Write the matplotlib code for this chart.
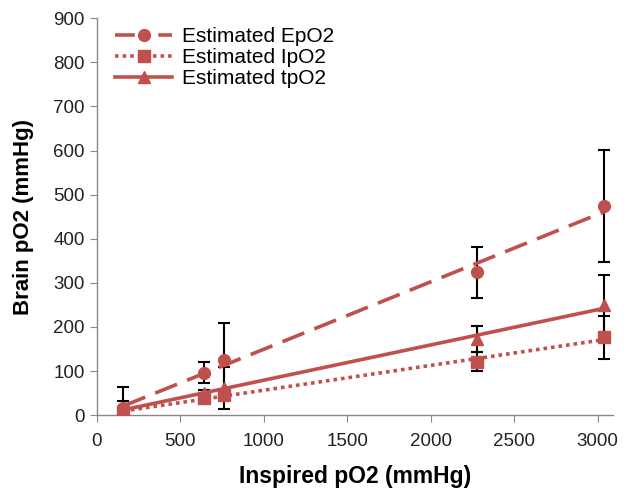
import numpy as np
import matplotlib
matplotlib.use('Agg')
import matplotlib.pyplot as plt
from matplotlib.lines import Line2D

plt.rcParams['font.family'] = ['Liberation Sans', 'DejaVu Sans']

# inspired pO2 (mmHg)
inspired = [160, 640, 760, 2280, 3040]

# estimated brain pO2 (mmHg) and error bars
epo2 = [15, 96, 125, 324, 474]
epo2_err = [48, 24, 85, 58, 127]
ipo2 = [8, 38, 45, 121, 176]
ipo2_err = [10, 8, 10, 21, 48]
tpo2 = [13, 50, 62, 172, 249]
tpo2_err = [20, 8, 48, 30, 68]

labels = ['Estimated EpO2', 'Estimated IpO2', 'Estimated tpO2']
markers = ['o', 's', '^']
styles = [(0, (6.5, 3)), (0, (1, 1.1)), '-']
# the legend needs its own dash so the short handle still looks dashed
legend_styles = [(0, (5.5, 6.5)), (0, (1, 1.1)), '-']
RED = '#C0504D'

fig = plt.figure(figsize=(6.24, 4.93), dpi=100)
ax = fig.add_axes([0.155, 0.158, 0.827, 0.805])

x = np.array(inspired, dtype=float)
handles = []
for vals, errs, m, ls, lls in zip([epo2, ipo2, tpo2], [epo2_err, ipo2_err, tpo2_err],
                                  markers, styles, legend_styles):
    y = np.array(vals, dtype=float)
    ax.errorbar(x, y, yerr=errs, fmt='none', ecolor='black', elinewidth=1.5,
                capsize=4, capthick=1.5, zorder=2)
    ax.plot(x, y, linestyle='none', marker=m, markersize=8.5, color=RED, zorder=3)
    # linear trendline
    k, b = np.polyfit(x, y, 1)
    xs = np.array([x.min(), x.max()])
    ax.plot(xs, k * xs + b, linestyle=ls, color=RED, linewidth=2.6, zorder=4)
    handles.append(Line2D([], [], color=RED, linestyle=lls, linewidth=2.6,
                          marker=m, markersize=8.5))

ax.set_xlim(0, 3090)
ax.set_ylim(0, 900)
ax.set_xticks(np.arange(0, 3001, 500))
ax.set_yticks(np.arange(0, 901, 100))

for s in ['top', 'right']:
    ax.spines[s].set_visible(False)
for s in ['left', 'bottom']:
    ax.spines[s].set_color('#888888')
    ax.spines[s].set_linewidth(1.0)
ax.tick_params(direction='out', length=5, color='#888888', labelsize=13.5,
               labelcolor='#222222')
ax.tick_params(axis='x', pad=8)

ax.set_xlabel('Inspired pO2 (mmHg)', fontsize=16.5, fontweight='bold', labelpad=11)
ax.set_ylabel('Brain pO2 (mmHg)', fontsize=16, fontweight='bold', labelpad=14)

ax.legend(handles, labels, loc='upper left', bbox_to_anchor=(0.0, 1.025),
          frameon=False, fontsize=15, handlelength=2.7, handletextpad=0.5,
          labelspacing=0.1)

plt.savefig('out.png', dpi=100)
